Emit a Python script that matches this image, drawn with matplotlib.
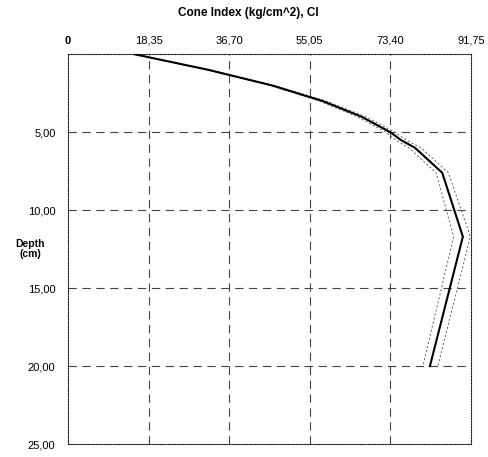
import matplotlib

matplotlib.use("Agg")
import matplotlib.pyplot as plt

# cone index profile (kg/cm^2) vs depth (cm)
depth = [0, 1, 2, 3, 4, 5, 5.5, 6, 7.6, 11.7, 20]
ci_mean = [15.2, 32.0, 46.5, 58.0, 66.8, 73.4, 75.8, 79.0, 85.2, 89.9, 82.4]
ci_low = [15.0, 31.7, 46.0, 57.2, 65.8, 72.4, 74.6, 77.6, 83.8, 87.8, 80.8]
ci_high = [15.4, 32.3, 47.0, 58.8, 67.8, 74.4, 77.0, 80.4, 86.6, 91.6, 84.2]

x_ticks = [0, 18.35, 36.70, 55.05, 73.40, 91.75]
x_labels = ["0", "18,35", "36,70", "55,05", "73,40", "91,75"]
y_ticks = [5, 10, 15, 20, 25]
y_labels = ["5,00", "10,00", "15,00", "20,00", "25,00"]

plt.rcParams["font.family"] = ["Liberation Sans", "DejaVu Sans"]
plt.rcParams["lines.scale_dashes"] = False

fig = plt.figure(figsize=(4.89, 4.57), dpi=100)
ax = fig.add_axes([68 / 489, 1 - 444 / 457, 403 / 489, 389.7 / 457])

ax.set_xlim(0, 91.75)
ax.set_ylim(25, 0)

for x in x_ticks[1:-1]:
    ax.axvline(x, color="#444444", lw=0.8, ls=(0, (6, 4)), zorder=1)
for y in y_ticks[:-1]:
    ax.axhline(y, color="#444444", lw=0.8, ls=(0, (6, 4)), zorder=1)

ax.plot(ci_low, depth, color="#666666", lw=0.7, ls=(0, (1.5, 1.5)), zorder=2)
ax.plot(ci_high, depth, color="#666666", lw=0.7, ls=(0, (1.5, 1.5)), zorder=2)
ax.plot(ci_mean, depth, color="black", lw=1.5, zorder=3)

for s in ax.spines.values():
    s.set_linestyle((0, (1, 1)))
    s.set_linewidth(0.8)
    s.set_color("#222222")

ax.xaxis.tick_top()
ax.set_xticks(x_ticks)
ax.set_xticklabels(x_labels, fontsize=8)
ax.get_xticklabels()[0].set_fontweight("bold")
ax.set_yticks(y_ticks)
ax.set_yticklabels(y_labels, fontsize=8)
ax.tick_params(length=0)
ax.tick_params(axis="x", pad=6)
ax.tick_params(axis="y", pad=9)

fig.text(248 / 489, 1 - 13 / 457, "Cone Index (kg/cm^2), CI", ha="center", va="center",
         fontsize=8.5, fontweight="bold")
fig.text(30 / 489, 1 - 249 / 457, "Depth\n(cm)", ha="center", va="center",
         fontsize=7.5, fontweight="bold", linespacing=0.95)

plt.savefig("out.png", dpi=100)
plt.close()
